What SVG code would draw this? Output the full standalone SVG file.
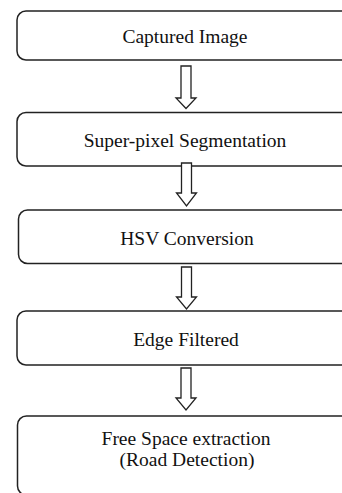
<svg xmlns="http://www.w3.org/2000/svg" width="342" height="493" viewBox="0 0 342 493">
<style>
.box{fill:#fff;stroke:#222;stroke-width:1.5}
.lbl{font-family:"Liberation Serif","Times New Roman",serif;font-size:19.5px;fill:#111;text-anchor:middle}
.arr{fill:#fff;stroke:#222;stroke-width:1.3;stroke-linejoin:miter}
</style>
<rect width="342" height="493" fill="#fff"/>
<g id="n1"><rect class="box" x="17" y="11" width="337" height="49" rx="9"/><text class="lbl" x="185" y="43">Captured Image</text></g>
<g id="n2"><rect class="box" x="17" y="112.5" width="337" height="53.5" rx="9"/><text class="lbl" x="185" y="146.5">Super-pixel Segmentation</text></g>
<g id="n3"><rect class="box" x="18.5" y="210" width="335" height="53.5" rx="9"/><text class="lbl" x="187" y="245">HSV Conversion</text></g>
<g id="n4"><rect class="box" x="17" y="311" width="337" height="54" rx="9"/><text class="lbl" x="186" y="346">Edge Filtered</text></g>
<g id="n5"><rect class="box" x="17.5" y="416" width="336" height="79" rx="9"/><text class="lbl" x="186" y="445">Free Space extraction</text><text class="lbl" x="187" y="466">(Road Detection)</text></g>
<g id="connectors">
<polygon class="arr" points="181,66 191,66 191,98 196,98 186,108.5 176,98 181,98"/>
<polygon class="arr" points="181.5,163 191.5,163 191.5,193 196.5,193 186.5,206 176.5,193 181.5,193"/>
<polygon class="arr" points="181.5,267 191.5,267 191.5,297 196.5,297 186.5,309 176.5,297 181.5,297"/>
<polygon class="arr" points="181,368 191,368 191,398 196,398 186,410 176,398 181,398"/>
</g>
</svg>
